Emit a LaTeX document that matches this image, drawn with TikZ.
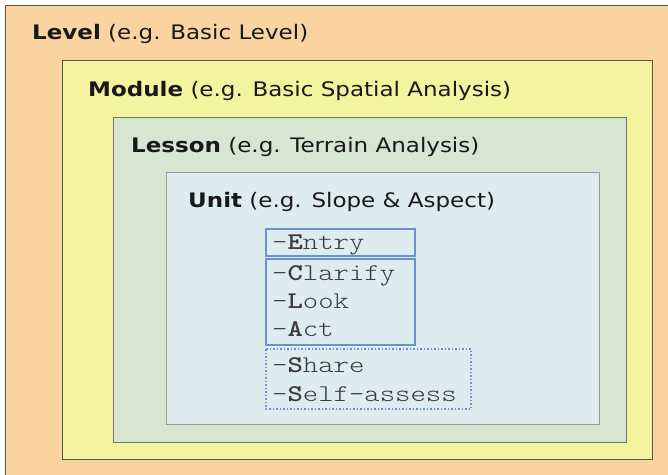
\documentclass[tikz,border=0pt]{standalone}
\usepackage{fontspec}
\setmainfont{DejaVu Sans}[FakeStretch=1.15]
\setmonofont{lmmonolt10-regular.otf}[BoldFont=lmmonolt10-bold.otf,FakeStretch=1.22]
\definecolor{levelfill}{RGB}{250,212,160}
\definecolor{modulefill}{RGB}{244,243,160}
\definecolor{lessonfill}{RGB}{214,230,209}
\definecolor{unitfill}{RGB}{221,236,238}
\definecolor{frameline}{RGB}{85,85,70}
\definecolor{stepline}{RGB}{110,145,205}
\definecolor{inktext}{RGB}{25,25,25}
\definecolor{steptext}{RGB}{60,60,60}
\begin{document}
\begin{tikzpicture}[x=1pt,y=-1pt,
  framebox/.style={draw=frameline,line width=1pt},
  title/.style={anchor=base west,inner sep=0pt,font=\fontsize{20}{23}\selectfont,text=inktext},
  stepbox/.style={draw=stepline,line width=1.5pt},
  stepdots/.style={draw=stepline,line width=1.5pt,dotted},
  steptxt/.style={anchor=base west,inner sep=0pt,font=\ttfamily\fontsize{24}{26}\selectfont,text=steptext}]
  \useasboundingbox (0,0) rectangle (668,474);
  \clip (0,0) rectangle (668,474);
  % nested frames
  \path[framebox,fill=levelfill] (5,5) rectangle (680,490);
  \path[framebox,fill=modulefill] (62,60) rectangle (652,459);
  \path[framebox,fill=lessonfill,draw=frameline!80] (113,117) rectangle (626,442);
  \path[framebox,fill=unitfill,draw=frameline!60] (166,172) rectangle (599,424);
  % headings
  \node[title] (level) at (32,39) {\textbf{Level} (e.g. Basic Level)};
  \node[title] (module) at (88,96) {\textbf{Module} (e.g. Basic Spatial Analysis)};
  \node[title] (lesson) at (131,152) {\textbf{Lesson} (e.g. Terrain Analysis)};
  \node[title] (unit) at (188,207) {\textbf{Unit} (e.g. Slope \& Aspect)};
  % unit steps
  \path[stepbox] (266,229) rectangle (415,256);
  \path[stepbox] (266,259) rectangle (415,345);
  \path[stepdots] (266,349) rectangle (471,409);
  \node[steptxt] (entry) at (272,249) {-\textbf{E}ntry};
  \node[steptxt] (clarify) at (272,280) {-\textbf{C}larify};
  \node[steptxt] (look) at (272,308) {-\textbf{L}ook};
  \node[steptxt] (act) at (272,336) {-\textbf{A}ct};
  \node[steptxt] (share) at (272,372) {-\textbf{S}hare};
  \node[steptxt] (self) at (272,401) {-\textbf{S}elf-assess};
\end{tikzpicture}
\end{document}
